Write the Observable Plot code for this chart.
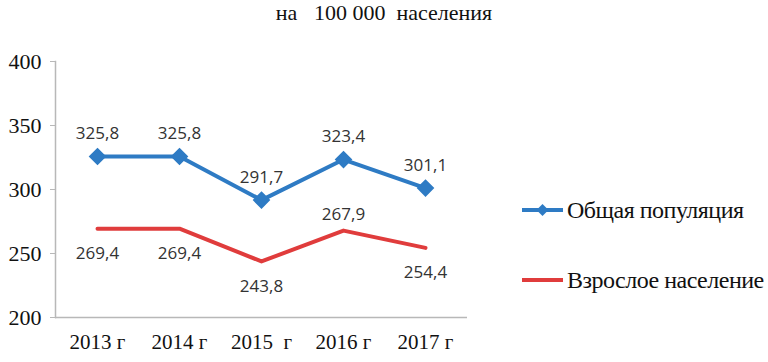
<!DOCTYPE html>
<html>
<head>
<meta charset="utf-8">
<script src="https://cdn.jsdelivr.net/npm/d3@7"></script>
<script src="https://cdn.jsdelivr.net/npm/@observablehq/plot@0.6"></script>
<style>
  html, body { margin: 0; padding: 0; background: #fff; }
  #wrap { position: relative; width: 768px; height: 362px; overflow: hidden; }
  #title { height: 38px; line-height: 1; text-align: center; font-family: "Liberation Serif", "Times New Roman", serif; font-size: 22px; color: #111; padding-top: 2px; box-sizing: border-box; white-space: pre; }
  .leg { position: absolute; left: 522px; font-family: "Liberation Serif", "Times New Roman", serif; font-size: 24px; color: #111; white-space: nowrap; display: flex; align-items: center; letter-spacing: -0.5px; }
  .leg svg { margin-right: 4px; }
  #chart svg text { font-family: "Liberation Serif", "Times New Roman", serif; }
  #chart svg g.lbl text { font-family: "Open Sans", sans-serif; }
</style>
</head>
<body>
<div id="wrap">
  <div id="title">на   100 000  населения</div>
  <div id="chart"></div>
</div>
<script>
const years = ["2013 г", "2014 г", "2015  г", "2016 г", "2017 г"];
const generalPop = [325.8, 325.8, 291.7, 323.4, 301.1];
const adultPop = [269.4, 269.4, 243.8, 267.9, 254.4];
const seriesNames = ["Общая популяция", "Взрослое население"];
const yTicks = [200, 250, 300, 350, 400];

const blue = "#2e7bc4";
const red = "#e03c3c";
const fmt = v => v.toFixed(1).replace(".", ",");

const general = years.map((y, i) => ({year: y, value: generalPop[i]}));
const adult = years.map((y, i) => ({year: y, value: adultPop[i]}));
const adultBelow = adult.filter((d, i) => i !== 3);
const adultAbove = adult.filter((d, i) => i === 3);

const lblOpts = {x: "year", y: "value", text: d => fmt(d.value), fontSize: 17, fill: "#333", className: "lbl"};

const plot = Plot.plot({
  width: 768,
  height: 324,
  marginTop: 23,
  marginBottom: 45,
  marginLeft: 55,
  marginRight: 301,
  style: {fontFamily: "'Liberation Serif', 'Times New Roman', serif", fontSize: "21px", color: "#111", background: "#fff"},
  x: {type: "point", domain: years, padding: 0.5, label: null},
  y: {domain: [200, 400], label: null},
  marks: [
    Plot.ruleY([200], {stroke: "#b8b8b8", strokeWidth: 1.5}),
    Plot.frame({anchor: "left", stroke: "#b8b8b8", strokeWidth: 1.5}),
    Plot.axisY({ticks: yTicks, tickSize: 5, tickPadding: 9, stroke: "#b8b8b8", tickFormat: d => d, fontSize: 22, fill: "#111", label: null}),
    Plot.axisX({tickSize: 0, tickPadding: 17, fontSize: 21, fill: "#111", label: null}),
    Plot.line(adult, {x: "year", y: "value", stroke: red, strokeWidth: 4}),
    Plot.line(general, {x: "year", y: "value", stroke: blue, strokeWidth: 4}),
    Plot.dot(general, {x: "year", y: "value", symbol: "diamond2", r: 7, fill: blue, stroke: blue}),
    Plot.text(general, {...lblOpts, dy: -23}),
    Plot.text(adultBelow, {...lblOpts, dy: 25}),
    Plot.text(adultAbove, {...lblOpts, dy: -16})
  ]
});
document.getElementById("chart").appendChild(plot);

const wrap = document.getElementById("wrap");
const legendItems = [
  {name: seriesNames[0], color: blue, marker: true, top: 195},
  {name: seriesNames[1], color: red, marker: false, top: 265}
];
legendItems.forEach(it => {
  const div = document.createElement("div");
  div.className = "leg";
  div.style.top = it.top + "px";
  div.innerHTML = `<svg width="41" height="30"><line x1="0" x2="41" y1="15" y2="15" stroke="${it.color}" stroke-width="4"/>${it.marker ? `<path d="M20.5 9 L26.5 15 L20.5 21 L14.5 15 Z" fill="${it.color}"/>` : ""}</svg><span>${it.name}</span>`;
  wrap.appendChild(div);
});
</script>
</body>
</html>
